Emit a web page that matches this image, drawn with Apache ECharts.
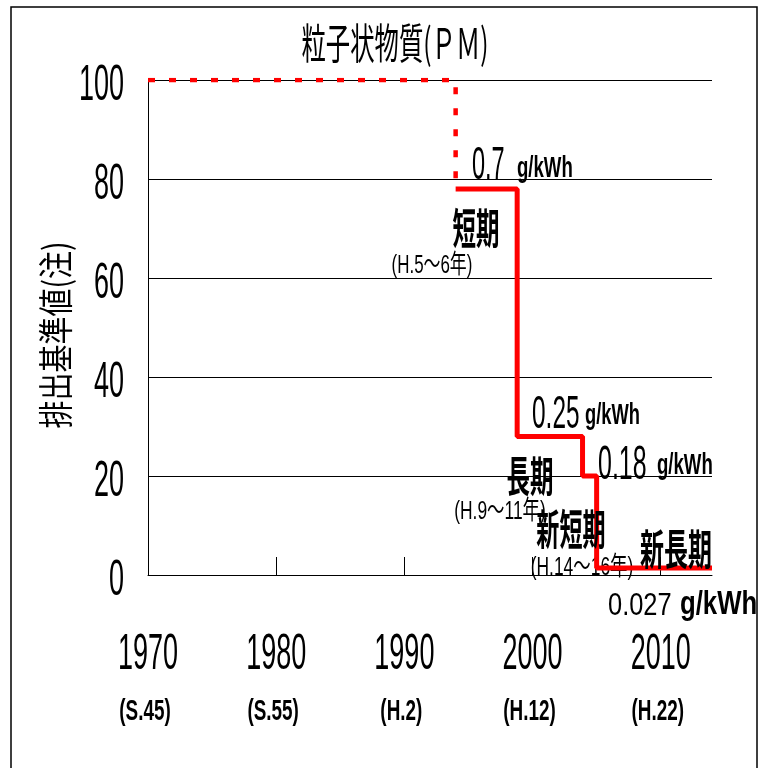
<!DOCTYPE html>
<html>
<head>
<meta charset="utf-8">
<script src="https://cdn.jsdelivr.net/npm/echarts@6/dist/echarts.min.js"></script>
<style>
  html, body { margin: 0; padding: 0; background: #fff; }
  #box { width: 762px; height: 768px; }
</style>
</head>
<body>
<div id="box"></div>
<script>
var years = [1970, 1980, 1990, 2000, 2010];
var eras = ['(S.45)', '(S.55)', '(H.2)', '(H.12)', '(H.22)'];
var yTicks = [0, 20, 40, 60, 80, 100];

// old standard (dashed), then the step-down of the PM limits
var oldX = [1970, 1994];
var oldY = [100, 78];
var stepX = [1994, 1998.8, 2003.9, 2005, 2014];
var stepY = [78, 28, 20, 1.4, 1.4];

var LATIN = "'Liberation Sans', 'Noto Sans CJK JP', sans-serif";
var CJK = "'Noto Sans CJK JP', sans-serif";

var chart = echarts.init(document.getElementById('box'));

function pairs(xs, ys) {
	return xs.map(function (x, i) { return [x, ys[i]]; });
}

chart.setOption({
	animation: false,
	grid: { left: 148, top: 80, width: 564, height: 495 },
	xAxis: {
		type: 'value', min: 1970, max: 2014, interval: 10,
		axisLine: { lineStyle: { color: '#000', width: 1 } },
		axisTick: { inside: true, length: 18, customValues: [1980, 1990, 2000, 2010], lineStyle: { color: '#000' } },
		axisLabel: { show: false },
		splitLine: { show: false }
	},
	yAxis: {
		type: 'value', min: 0, max: 100, interval: 20,
		axisLine: { show: true, lineStyle: { color: '#000', width: 1 } },
		axisTick: { show: false },
		axisLabel: { show: false },
		splitLine: { show: true, lineStyle: { color: '#000', width: 1 } }
	},
	series: [
		{
			type: 'line', step: 'end', symbol: 'none', z: 3,
			data: pairs(oldX, oldY),
			lineStyle: { color: '#ff0000', width: 4.5, type: [7, 14] }
		},
		{
			type: 'line', step: 'end', symbol: 'none', z: 4,
			data: pairs(stepX, stepY),
			lineStyle: { color: '#ff0000', width: 5 }
		}
	]
});

function txt(text, x, y, o) {
	return {
		type: 'text', x: x, y: y, z: o.z == null ? 100 : o.z,
		scaleX: o.sx || 1, rotation: o.rot || 0,
		style: {
			text: text, fill: '#000',
			fontSize: o.fs, fontFamily: o.ff || LATIN, fontWeight: o.bold ? 'bold' : 'normal',
			align: o.align || 'center', verticalAlign: 'middle'
		}
	};
}

var g = [];
g.push({ type: 'rect', z: 120, shape: { x: 11, y: 7, width: 746, height: 790 },
	style: { fill: 'none', stroke: '#000', lineWidth: 1.5 } });

// tick labels placed through the axes
yTicks.forEach(function (v) {
	var p = chart.convertToPixel({ gridIndex: 0 }, [1970, v]);
	g.push(txt(String(v), 124, p[1] + 6, { fs: 50, sx: 0.54, align: 'right' }));
});
years.forEach(function (v, i) {
	var p = chart.convertToPixel({ gridIndex: 0 }, [v, 0]);
	g.push(txt(String(v), p[0], 655, { fs: 50, sx: 0.54 }));
	g.push(txt(eras[i], p[0] - 3, 712, { fs: 30, sx: 0.63, bold: true }));
});

// title and axis name
g.push(txt('粒子状物質(ＰＭ)', 395, 43, { fs: 42, sx: 0.58, ff: CJK }));
g.push(txt('排出基準値(注)', 56, 335, { fs: 35, sx: 0.8, ff: CJK, rot: Math.PI / 2 }));

// limit values
g.push(txt('0.7', 472, 166, { fs: 47, sx: 0.5, align: 'left' }));
g.push(txt('g/kWh', 517, 169, { fs: 30, sx: 0.62, bold: true, align: 'left' }));
g.push(txt('0.25', 532, 415, { fs: 47, sx: 0.52, align: 'left' }));
g.push(txt('g/kWh', 585, 416, { fs: 30, sx: 0.61, bold: true, align: 'left' }));
g.push(txt('0.18', 598, 466, { fs: 48, sx: 0.52, align: 'left' }));
g.push(txt('g/kWh', 657, 466, { fs: 30, sx: 0.62, bold: true, align: 'left' }));
g.push(txt('0.027', 608, 606, { fs: 31, sx: 0.82, align: 'left' }));
g.push(txt('g/kWh', 680, 605, { fs: 33, sx: 0.78, bold: true, align: 'left' }));

// regulation phases
g.push(txt('短期', 476, 228, { fs: 42, sx: 0.56, bold: true, ff: CJK }));
g.push(txt('(H.5～6年)', 432, 266, { fs: 26, sx: 0.65 }));
g.push(txt('長期', 530, 476, { fs: 42, sx: 0.56, bold: true, ff: CJK }));
g.push(txt('(H.9～11年)', 500, 512, { fs: 26, sx: 0.67 }));
g.push(txt('新短期', 571, 529, { fs: 42, sx: 0.55, bold: true, ff: CJK }));
g.push(txt('(H.14～16年)', 582, 568, { fs: 26, sx: 0.67, z: 1 }));
g.push(txt('新長期', 676, 549, { fs: 42, sx: 0.57, bold: true, ff: CJK }));

chart.setOption({ graphic: g });
</script>
</body>
</html>
